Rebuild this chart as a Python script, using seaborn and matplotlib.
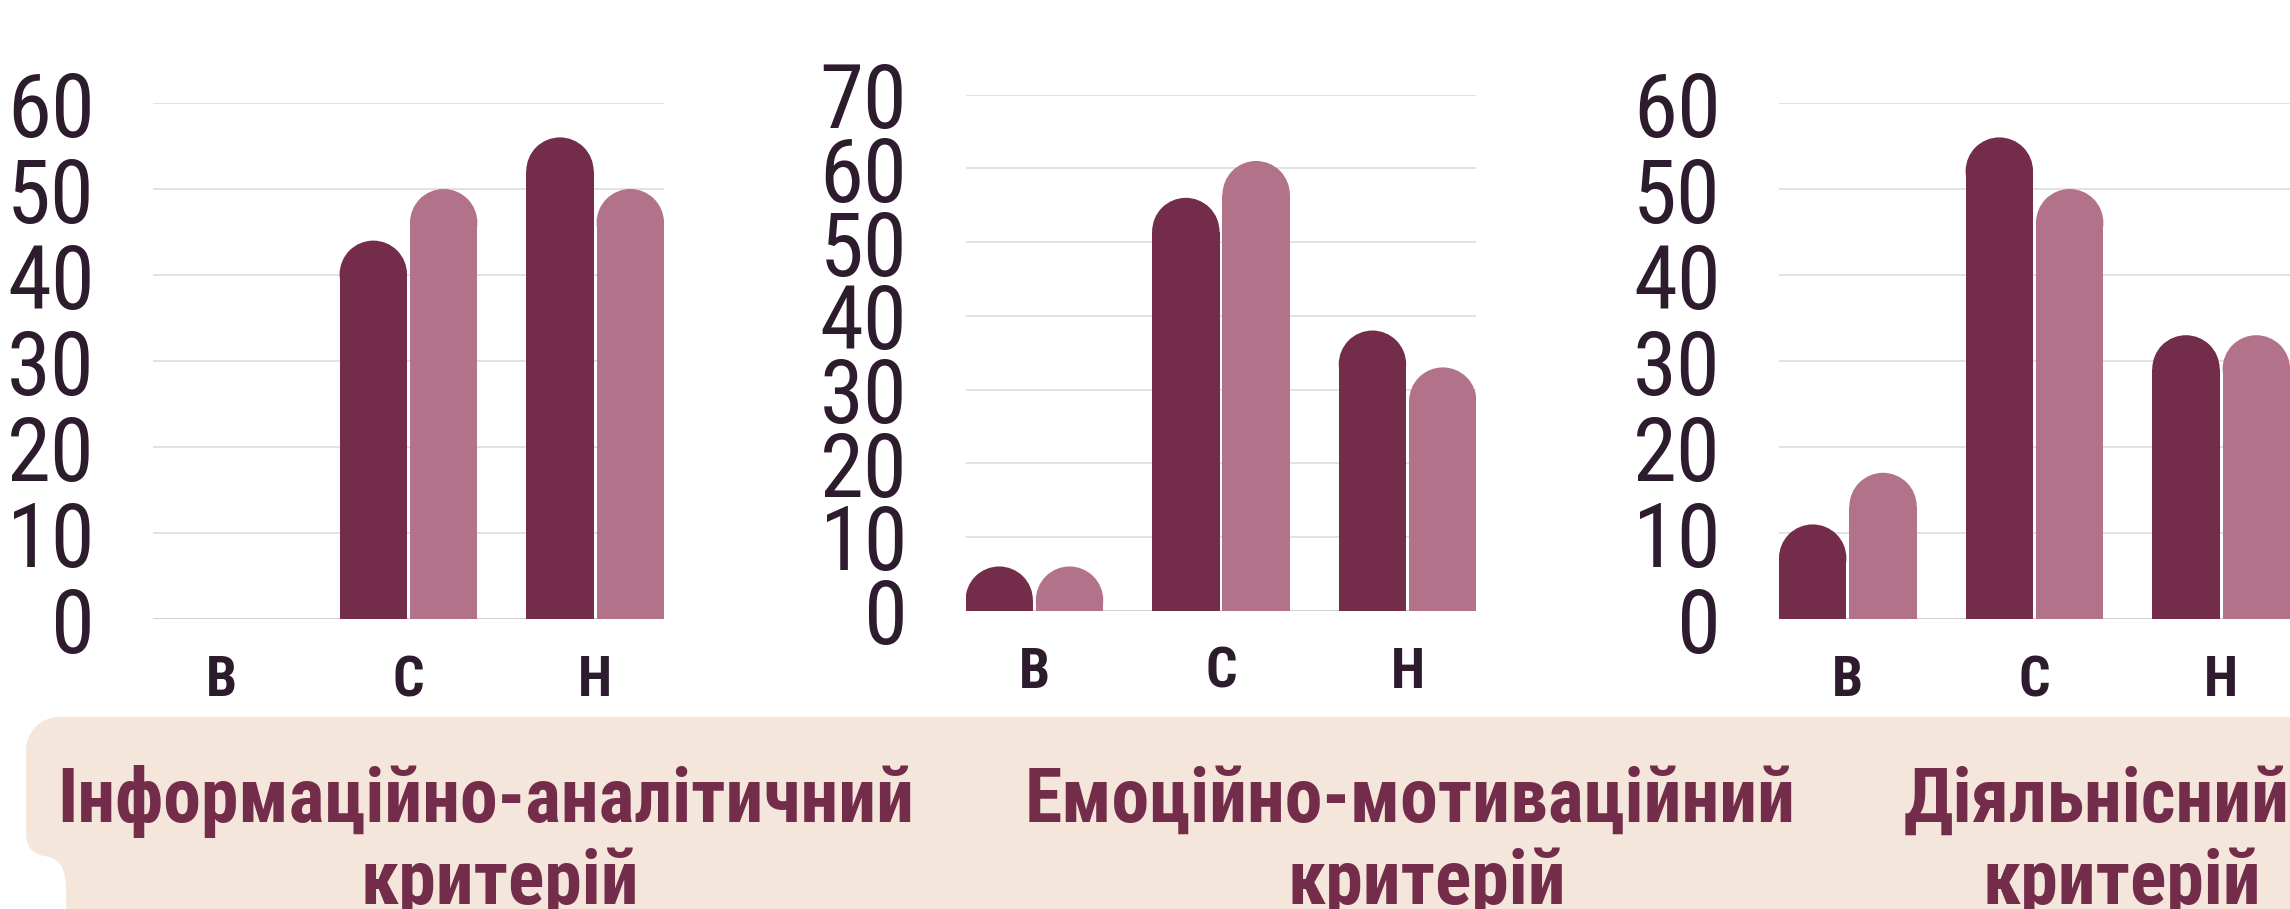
import os
import matplotlib
matplotlib.use("Agg")
import matplotlib.pyplot as plt
import seaborn as sns
import pandas as pd
from matplotlib import font_manager
from matplotlib.patches import Ellipse, PathPatch
from matplotlib.path import Path

# categories and series
levels = ["В", "С", "Н"]
groups = ["Група 1", "Група 2"]

info_dark = [0, 44, 56]
info_light = [0, 50, 50]
emo_dark = [6, 56, 38]
emo_light = [6, 61, 33]
act_dark = [11, 56, 33]
act_light = [17, 50, 33]

titles = [
    ("Інформаційно-аналітичний", "критерій"),
    ("Емоційно-мотиваційний", "критерій"),
    ("Діяльнісний", "критерій"),
]
y_max = [60, 70, 60]

DARK = "#732d4b"
LIGHT = "#b2738a"
INK = "#2d1b2e"
BOX = "#f4e6da"

W, H = 2290, 909

sns.set_theme(style="white")
plt.rcParams["font.family"] = ["DejaVu Sans"]


def pick_font(patterns, weight):
    files = sorted(
        (os.path.basename(f.fname).lower(), f.fname)
        for f in font_manager.fontManager.ttflist
    )
    for p in patterns:
        for name, path in files:
            if name.startswith(p):
                return font_manager.FontProperties(fname=path)
    return font_manager.FontProperties(
        family="DejaVu Sans", weight=weight, stretch="condensed"
    )


regular = pick_font([
    "notosans-extracondensed.",
    "notosans-condensed.",
    "robotocondensed-regular.",
    "opensans_condensed-regular.",
    "liberationsansnarrow-regular.",
    "dejavusanscondensed.",
], "normal")
bold = pick_font([
    "notosans-extracondensedbold.",
    "notosans-condensedbold.",
    "robotocondensed-bold.",
    "opensans_condensed-bold.",
    "opensans-condbold.",
    "liberationsansnarrow-bold.",
    "dejavusanscondensed-bold.",
], "bold")

fig = plt.figure(figsize=(W / 100, H / 100), dpi=100)


def px(x, y):
    return x / W, 1 - y / H


# beige caption band with the notch on the left
verts = [
    (66, 915), (66, 890),
    (66, 868), (60, 858), (44, 856),
    (32, 854), (26, 846), (26, 832),
    (26, 750),
    (26, 732), (41, 717), (59, 717),
    (2300, 717), (2300, 915), (66, 915),
]
codes = [
    Path.MOVETO, Path.LINETO,
    Path.CURVE4, Path.CURVE4, Path.CURVE4,
    Path.CURVE4, Path.CURVE4, Path.CURVE4,
    Path.LINETO,
    Path.CURVE4, Path.CURVE4, Path.CURVE4,
    Path.LINETO, Path.LINETO, Path.CLOSEPOLY,
]
band = PathPatch(
    Path([px(x, y) for x, y in verts], codes),
    transform=fig.transFigure,
    facecolor=BOX,
    edgecolor="none",
    zorder=0,
)
fig.add_artist(band)


def round_tops(ax):
    (x0, y0), (x1, y1) = ax.transData.transform([(0, 0), (1, 1)])
    ppx, ppy = x1 - x0, y1 - y0
    for bar in list(ax.patches):
        h = bar.get_height()
        if h <= 0:
            continue
        w = bar.get_width()
        ry = w * ppx / 2 / ppy
        bar.set_height(h - ry)
        ax.add_patch(
            Ellipse(
                (bar.get_x() + w / 2, h - ry),
                w,
                2 * ry,
                facecolor=bar.get_facecolor(),
                linewidth=0,
                zorder=bar.get_zorder(),
            )
        )


# axes boxes in pixels: left, top (y max), right, bottom (zero)
boxes = [
    (153, 103, 664, 619),
    (965.5, 94.6, 1476.5, 610.7),
    (1779, 103, 2290, 619),
]
data = [
    (info_dark, info_light),
    (emo_dark, emo_light),
    (act_dark, act_light),
]

for (l, t, r, b), (dark, light), top in zip(boxes, data, y_max):
    ax = fig.add_axes([l / W, 1 - b / H, (r - l) / W, (b - t) / H])
    ax.patch.set_alpha(0)

    df = pd.DataFrame({
        "level": levels * 2,
        "group": [g for g in groups for _ in levels],
        "value": dark + light,
    })

    sns.barplot(
        data=df,
        x="level",
        y="value",
        hue="group",
        palette=[DARK, LIGHT],
        width=0.754,
        gap=0.042,
        saturation=1,
        linewidth=0,
        legend=False,
        ax=ax,
        zorder=3,
    )

    ax.set_xlim(-0.369, 2.369)
    ax.set_ylim(0, top)
    yt = list(range(0, top + 1, 10))
    ax.set_yticks(yt, labels=[str(v) for v in yt],
                  fontproperties=regular, fontsize=64, color=INK)
    ax.set_xticks(range(len(levels)), labels=levels,
                  fontproperties=bold, fontsize=40, color=INK)
    ax.set_xlabel("")
    ax.set_ylabel("")
    sns.despine(ax=ax, left=True, bottom=True)

    ax.yaxis.grid(True, color="#dadada", linewidth=1.1)
    ax.set_axisbelow(True)
    ax.axhline(0, color="#8c8c8c", linewidth=1.0, zorder=2)

    ax.tick_params(axis="y", length=0, pad=41.8)
    ax.tick_params(axis="x", length=0, pad=26)

    round_tops(ax)

# captions under the charts
caption_pos = [
    ((486, "center"), (500, "center")),
    ((1410, "center"), (1427, "center")),
    ((1904, "left"), (2122, "center")),
]
captions = []
for (s1, s2), ((x1, a1), (x2, a2)) in zip(titles, caption_pos):
    for s, x, a, y in ((s1, x1, a1, 822), (s2, x2, a2, 904)):
        captions.append(
            fig.text(*px(x, y), s, ha=a, va="baseline", fontproperties=bold,
                     fontsize=58, color=DARK)
        )

# size the captions so the first one spans the same width as in the layout
fig.canvas.draw()
w0 = captions[0].get_window_extent(fig.canvas.get_renderer()).width
size = min(64, 58 * 856 / w0)
for c in captions:
    c.set_fontsize(size)

fig.savefig("out.png", dpi=100)
plt.close(fig)
